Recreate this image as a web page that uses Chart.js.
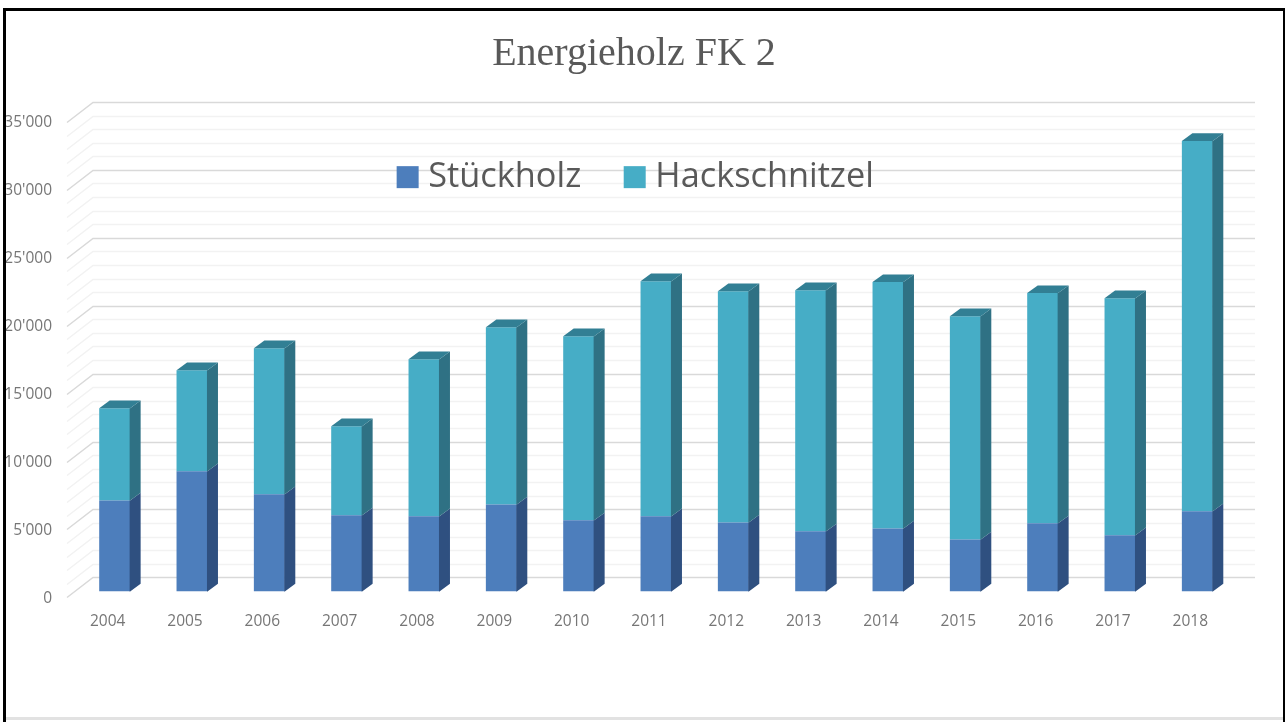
<!DOCTYPE html>
<html lang="de">
<head>
    <meta charset="UTF-8">
    <title>Energieholz FK 2</title>
    <script src="https://cdn.jsdelivr.net/npm/chart.js"></script>
    <style>
        html, body { margin: 0; padding: 0; background: #fff; overflow: hidden; }
        #wrap { position: relative; width: 1285px; height: 722px; overflow: hidden; }
        /* the reference is a soft, scaled up screenshot */
        #chart { position: absolute; left: 0; top: 0; filter: blur(0.4px); }
        /* picture frame sits over the chart, it cuts the first digit of the y labels */
        #frame {
            position: absolute; left: 3px; top: 8px; right: 0; bottom: -10px;
            border-style: solid; border-width: 3px 2px 0 3px; border-color: #000;
            pointer-events: none;
        }
        #frame::after {
            content: ''; position: absolute; left: 0; right: 0; top: 706px; height: 3px;
            background: #e2e2e2;
        }
    </style>
</head>
<body>
<div id="wrap">
    <canvas id="chart" width="1285" height="722"></canvas>
    <div id="frame"></div>
</div>
<script>
    const years = ['2004','2005','2006','2007','2008','2009','2010','2011','2012','2013','2014','2015','2016','2017','2018'];
    const stueckholz = [6700,8850,7150,5600,5530,6400,5230,5530,5080,4420,4640,3830,5010,4130,5900];
    const hackschnitzel = [6780,7440,10760,6560,11570,13050,13560,17310,17020,17760,18130,16430,16950,17460,27260];

    const blue = { front: '#4d7ebc', side: '#2f5080', top: '#35598c' };
    const teal = { front: '#46adc6', side: '#2f7184', top: '#327f94' };

    // how far the bar depth and the back wall are pushed from the bar front
    const depthX = 10.5, depthY = 7.7;
    const wallLeft = 93, wallRight = 1255, wallRise = 14, floorLeft = 67, floorDrop = 20;

    const legendPadding = 50;

    const grid3d = {
        id: 'grid3d',
        afterLayout(chart) {
            // title is centred on 634, the legend a bit to the right of it and inside the plot
            const t = chart.titleBlock, l = chart.legend;
            const shift = 634 - (t.left + t.right) / 2;
            t.left += shift; t.right += shift;
            l.left += shift + 5; l.right += shift + 5;
            l.top = 177 - 17 - legendPadding;
            // the legend clips to its box, so it has to grow back after the layout
            l.height = 2 * legendPadding + 36;
            l.bottom = l.top + l.height;
        },
        // before the legend layer, so the swatches stay clean
        beforeDraw(chart) {
            const ctx = chart.ctx, y = chart.scales.y;
            ctx.save();
            y.ticks.forEach(t => {
                const py = Math.round(y.getPixelForValue(t.value) - wallRise) + 0.5;
                ctx.strokeStyle = t.value % 5000 === 0 ? '#d9d9d9' : '#f2f2f2';
                ctx.lineWidth = 1.5;
                ctx.beginPath();
                ctx.moveTo(floorLeft, py + floorDrop);
                ctx.lineTo(wallLeft, py);
                ctx.lineTo(wallRight, py);
                ctx.stroke();
            });
            ctx.restore();
        },
        afterDatasetsDraw(chart) {
            const ctx = chart.ctx;
            const styles = [blue, teal];
            ctx.save();
            chart.data.datasets.forEach((ds, i) => {
                const c = styles[i];
                chart.getDatasetMeta(i).data.forEach(bar => {
                    const right = bar.x + bar.width / 2, left = bar.x - bar.width / 2;
                    // side face, starts a bit inside the bar so no white seam shows
                    ctx.fillStyle = c.side;
                    ctx.beginPath();
                    ctx.moveTo(right - 0.5, bar.base);
                    ctx.lineTo(right, bar.base);
                    ctx.lineTo(right + depthX, bar.base - depthY);
                    ctx.lineTo(right + depthX, bar.y - depthY);
                    ctx.lineTo(right, bar.y);
                    ctx.lineTo(right - 0.5, bar.y);
                    ctx.closePath();
                    ctx.fill();
                    // top face, only the upper series shows it
                    if (i === styles.length - 1) {
                        ctx.fillStyle = c.top;
                        ctx.beginPath();
                        ctx.moveTo(left, bar.y);
                        ctx.lineTo(left + depthX, bar.y - depthY);
                        ctx.lineTo(right + depthX, bar.y - depthY);
                        ctx.lineTo(right, bar.y);
                        ctx.closePath();
                        ctx.fill();
                    }
                });
            });
            ctx.restore();
        }
    };

    function yLabel(value) {
        if (value % 5000 !== 0) return '';
        return String(value).replace(/\B(?=(\d{3})+$)/g, "'");
    }

    new Chart(document.getElementById('chart'), {
        type: 'bar',
        data: {
            labels: years,
            datasets: [
                { label: 'Stückholz', data: stueckholz, backgroundColor: blue.front },
                { label: 'Hackschnitzel', data: hackschnitzel, backgroundColor: teal.front }
            ]
        },
        plugins: [grid3d],
        options: {
            responsive: false,
            animation: false,
            layout: { padding: { left: 0, right: 49, top: 30, bottom: 78 } },
            datasets: { bar: { categoryPercentage: 1, barPercentage: 0.4 } },
            plugins: {
                tooltip: { enabled: false },
                title: {
                    display: true,
                    text: 'Energieholz FK 2',
                    color: '#595959',
                    font: { family: '"Liberation Serif", serif', size: 40, weight: 'normal' },
                    padding: 0
                },
                legend: {
                    position: 'top',
                    maxHeight: 38,
                    labels: {
                        color: '#595959',
                        font: { family: '"Open Sans", sans-serif', size: 34.3 },
                        boxWidth: 7,
                        boxHeight: 7,
                        padding: legendPadding,
                        // thick stroke makes a 22px swatch and keeps the text close to it
                        generateLabels(chart) {
                            return Chart.defaults.plugins.legend.labels.generateLabels(chart).map(item => {
                                item.strokeStyle = item.fillStyle;
                                item.lineWidth = 15;
                                item.lineJoin = 'miter';
                                return item;
                            });
                        }
                    }
                }
            },
            scales: {
                x: {
                    stacked: true,
                    grid: { display: false },
                    border: { display: false },
                    ticks: {
                        color: '#767676',
                        font: { family: '"Open Sans", sans-serif', size: 15.5 },
                        labelOffset: -7,
                        padding: 13,
                        maxRotation: 0,
                        autoSkip: false
                    }
                },
                y: {
                    stacked: true,
                    min: 0,
                    max: 35000,
                    grid: { display: false, drawTicks: false },
                    border: { display: false },
                    afterFit(scale) { scale.width = 76; },
                    ticks: {
                        stepSize: 1000,
                        color: '#767676',
                        font: { family: '"Open Sans", sans-serif', size: 15.5 },
                        autoSkip: false,
                        maxTicksLimit: 40,
                        labelOffset: 7,
                        padding: 24,
                        callback: yLabel
                    }
                }
            }
        }
    });
</script>
</body>
</html>
